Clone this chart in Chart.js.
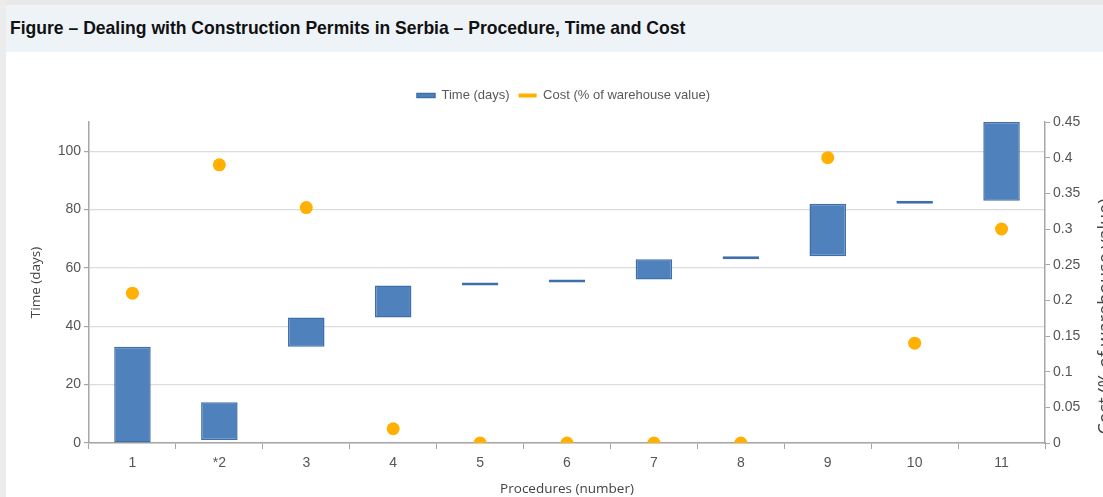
<!DOCTYPE html>
<html><head><meta charset="utf-8">
<script src="https://cdn.jsdelivr.net/npm/chart.js@4.4.1/dist/chart.umd.min.js"></script>
<style>
html,body{margin:0;padding:0;background:#fff;width:1103px;height:497px;overflow:hidden}
#frameTop{position:absolute;left:0;top:0;width:1103px;height:5px;background:#e8e8e8}
#frameLeft{position:absolute;left:0;top:0;width:6px;height:497px;background:#ececec}
#band{position:absolute;left:6px;top:5px;width:1097px;height:47px;background:#eef3f8}
#title{position:absolute;left:10px;top:17px;font:bold 18px "Liberation Sans Narrow","Liberation Sans",Arial,sans-serif;color:#111;white-space:nowrap;line-height:22px}
#wrap{position:absolute;left:0;top:0;width:1103px;height:497px}
</style></head>
<body>
<div id="frameTop"></div><div id="frameLeft"></div><div id="band"></div>
<div id="title">Figure – Dealing with Construction Permits in Serbia – Procedure, Time and Cost</div>
<div id="wrap"><canvas id="c" width="1103" height="497"></canvas></div>
<script>
// ---- data ----
const categories = ['1','*2','3','4','5','6','7','8','9','10','11'];
const timeStart = [0, 1, 33, 43, 54, 55, 56, 63, 64, 82, 83];
const timeEnd   = [33, 14, 43, 54, 55, 56, 63, 64, 82, 83, 110];
const costPct   = [0.21, 0.39, 0.33, 0.02, 0, 0, 0, 0, 0.40, 0.14, 0.30];
const leftTicksMax = 110;
const rightTicksMax = 0.45;

// fit title width to reference
(function(){
  const t = document.getElementById('title');
  const target = 676;
  let fs = 18;
  for (let i=0;i<6;i++){ const w = t.getBoundingClientRect().width; fs = fs*target/w; t.style.fontSize = fs+'px'; }
})();

const timeRanges = timeStart.map((s,i)=>[s, timeEnd[i]]);
const axisGray = '#a6a6a6';
const tickFont = {family:'"Liberation Sans", Arial, sans-serif', size:14};
const titleFont = {family:'"Open Sans", "Liberation Sans", sans-serif', size:13.5};

const rightTitle = {
  id:'rightTitle',
  afterDraw(chart){
    const ctx = chart.ctx;
    ctx.save();
    ctx.translate(1097, (chart.chartArea.top + chart.chartArea.bottom)/2 + 34);
    ctx.rotate(-Math.PI/2);
    ctx.font = '18px "Open Sans", sans-serif';
    ctx.fillStyle = '#444';
    ctx.textAlign = 'center';
    ctx.textBaseline = 'top';
    ctx.fillText('Cost (% of warehouse value)', 0, 0);
    ctx.restore();
  }
};
const legendFix = {
  id:'legendFix',
  beforeInit(chart){
    const fit = chart.legend.fit;
    chart.legend.fit = function(){ fit.bind(chart.legend)(); this.height = 42; };
  }
};

Chart.defaults.font.family = '"Liberation Sans", Arial, sans-serif';
Chart.defaults.color = '#595959';

new Chart(document.getElementById('c'), {
  type:'bar',
  data:{
    labels: categories,
    datasets:[
      {label:'Time (days)', data: timeRanges, yAxisID:'y', order:2,
       backgroundColor:'#4f81bd', borderColor:'#3f6fa8', borderWidth:1.5, borderSkipped:false,
       categoryPercentage:1, barPercentage:0.42},
      {type:'line', label:'Cost (% of warehouse value)', data: costPct, yAxisID:'y1', order:1,
       showLine:false, backgroundColor:'#ffb000', borderColor:'#ffb000', borderWidth:0,
       pointRadius:6.5, pointHoverRadius:6.5, pointBackgroundColor:'#ffb000', pointBorderWidth:0, clip:0}
    ]
  },
  options:{
    responsive:false, animation:false,
    layout:{padding:{top:80,left:24,right:0,bottom:0}},
    plugins:{
      legend:{position:'top', labels:{boxWidth:18, boxHeight:4, padding:9, font:{size:13}, color:'#595959',
        sort:(a,b)=>a.datasetIndex-b.datasetIndex}},
      tooltip:{enabled:false}
    },
    scales:{
      x:{
        grid:{offset:true, drawOnChartArea:false, tickLength:6, tickColor:axisGray},
        border:{color:axisGray, width:1.5},
        ticks:{font:tickFont, color:'#555', padding:6},
        title:{display:true, text:'Procedures (number)', font:titleFont, color:'#444', padding:{top:0,bottom:0}},
        afterFit(s){ s.height = 54; }
      },
      y:{
        position:'left', min:0, max:leftTicksMax,
        ticks:{stepSize:20, includeBounds:false, font:tickFont, color:'#555', padding:3},
        grid:{color:'#dcdcdc', lineWidth:1.2, tickLength:5, tickColor:axisGray},
        border:{color:axisGray, width:1.5},
        title:{display:true, text:'Time (days)', font:titleFont, color:'#444', padding:{top:4,bottom:0}},
        afterFit(s){ s.width = 65; }
      },
      y1:{
        position:'right', min:0, max:rightTicksMax,
        ticks:{stepSize:0.05, font:tickFont, color:'#555', padding:3,
          callback:(v)=>String(Number(v.toFixed(2)))},
        grid:{drawOnChartArea:false, tickLength:5, tickColor:axisGray},
        border:{color:axisGray, width:1.5},
        afterFit(s){ s.width = 58; }
      }
    }
  },
  plugins:[legendFix, rightTitle]
});
</script>
</body></html>
